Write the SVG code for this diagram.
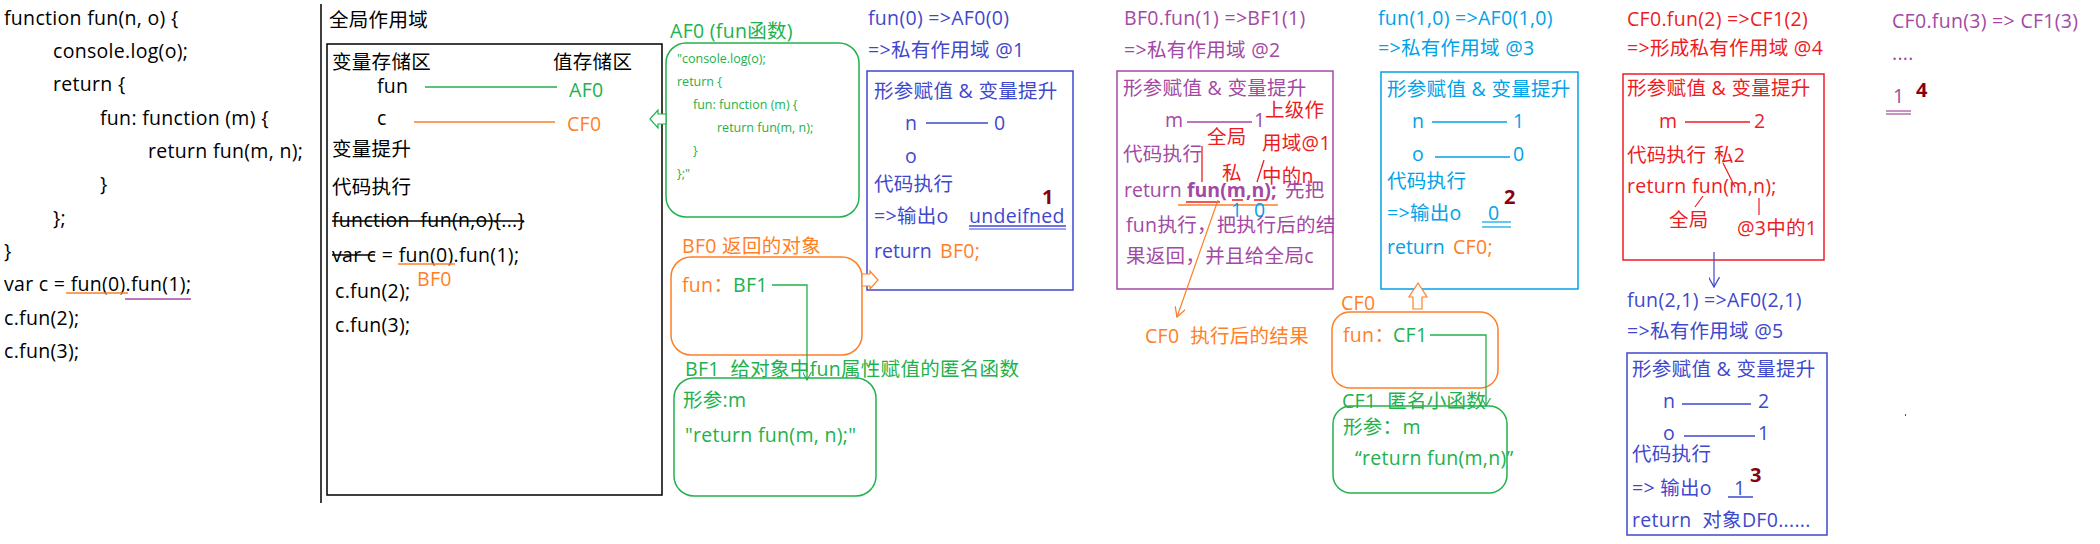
<svg xmlns="http://www.w3.org/2000/svg" width="2100" height="544" viewBox="0 0 2100 544">
<defs>
<style>
text{font-family:"Open Sans","Noto Sans CJK SC",sans-serif;font-size:19.5px;letter-spacing:0.3px}
.k{fill:#000}.g{fill:#22b14c}.o{fill:#ff7f27}.b{fill:#3f48cc}.p{fill:#a349a4}.c{fill:#00a2e8}.r{fill:#ed1c24}
.d{fill:#880015;font-weight:bold;font-size:20px}
.s{font-size:12.5px;letter-spacing:0}
.n{letter-spacing:0}
.bd{font-weight:bold;letter-spacing:0}
.ln{fill:none;stroke-width:1.3}
.box{fill:none;stroke-width:1.5}
</style>
<marker id="avg" viewBox="0 0 10 10" refX="9" refY="5" markerWidth="9" markerHeight="9" orient="auto" markerUnits="userSpaceOnUse">
<path d="M0,0 L9,5 L0,10" fill="none" stroke="#22b14c" stroke-width="1.2"/>
</marker>
<marker id="avo" viewBox="0 0 10 10" refX="9" refY="5" markerWidth="11" markerHeight="11" orient="auto" markerUnits="userSpaceOnUse">
<path d="M0,0 L9,5 L0,10" fill="none" stroke="#ff7f27" stroke-width="1.2"/>
</marker>
<marker id="avb" viewBox="0 0 10 10" refX="9" refY="5" markerWidth="11" markerHeight="11" orient="auto" markerUnits="userSpaceOnUse">
<path d="M0,0 L9,5 L0,10" fill="none" stroke="#3f48cc" stroke-width="1.2"/>
</marker>
</defs>
<rect width="2100" height="544" fill="#fff"/>

<g id="code">
<text class="k" x="4" y="25">function fun(n, o) {</text>
<text class="k" x="53" y="58">console.log(o);</text>
<text class="k" x="53" y="91">return {</text>
<text class="k" x="100" y="125">fun: function (m) {</text>
<text class="k" x="148" y="158">return fun(m, n);</text>
<text class="k" x="100" y="191">}</text>
<text class="k" x="53" y="225">};</text>
<text class="k" x="4" y="258">}</text>
<text class="k" x="4" y="291">var c = fun(0).fun(1);</text>
<text class="k" x="4" y="325">c.fun(2);</text>
<text class="k" x="4" y="358">c.fun(3);</text>
<line x1="66" y1="293" x2="128" y2="293" stroke="#ff7f27" stroke-width="1.3"/>
<line x1="125" y1="299" x2="191" y2="299" stroke="#a349a4" stroke-width="1.3"/>
</g>

<line x1="321" y1="4" x2="321" y2="503" stroke="#000" stroke-width="1.5"/>

<g id="global">
<text class="k" x="329" y="27">全局作用域</text>
<rect class="box" x="327" y="44" width="335" height="451" stroke="#000"/>
<text class="k" x="332" y="69">变量存储区</text>
<text class="k" x="553" y="69">值存储区</text>
<text class="k" x="377" y="93">fun</text>
<text class="g" x="569" y="97">AF0</text>
<text class="k" x="377" y="125">c</text>
<text class="o" x="567" y="131">CF0</text>
<text class="k" x="332" y="156">变量提升</text>
<text class="k" x="332" y="194">代码执行</text>
<text class="k" x="332" y="227" xml:space="preserve">function  fun(n,o){...}</text>
<line x1="332" y1="221" x2="524" y2="221" stroke="#000" stroke-width="1.5"/>
<text class="k" x="332" y="262">var c = fun(0).fun(1);</text>
<line x1="332" y1="255" x2="375" y2="255" stroke="#000" stroke-width="1.5"/>
<line x1="398" y1="264" x2="455" y2="264" stroke="#ff7f27" stroke-width="1.3"/>
<text class="o" x="417" y="286">BF0</text>
<text class="k" x="335" y="298">c.fun(2);</text>
<text class="k" x="335" y="332">c.fun(3);</text>
</g>

<g id="AF0">
<text class="g" x="670" y="38">AF0 (fun函数)</text>
<rect class="box" x="666" y="43" width="193" height="174" rx="20" stroke="#22b14c"/>
<text class="g s" x="677" y="63">"console.log(o);</text>
<text class="g s" x="677" y="86">return {</text>
<text class="g s" x="693" y="109">fun: function (m) {</text>
<text class="g s" x="717" y="132">return fun(m, n);</text>
<text class="g s" x="693" y="155">}</text>
<text class="g s" x="677" y="178">};"</text>
</g>

<g id="BF0">
<text class="o" x="682" y="253">BF0 返回的对象</text>
<rect class="box" x="671" y="257" width="191" height="98" rx="20" stroke="#ff7f27"/>
<text class="o" x="682" y="292">fun：</text>
<text class="g" x="733" y="292">BF1</text>
</g>

<g id="BF1">
<text class="g" x="685" y="376" xml:space="preserve">BF1  给对象中fun属性赋值的匿名函数</text>
<rect class="box" x="674" y="378" width="202" height="118" rx="20" stroke="#22b14c"/>
<text class="g" x="683" y="407">形参:m</text>
<text class="g" x="685" y="442">"return fun(m, n);"</text>
</g>

<g id="scope1">
<text class="b" x="868" y="25">fun(0) =&gt;AF0(0)</text>
<text class="b" x="868" y="57">=&gt;私有作用域 @1</text>
<rect class="box" x="867" y="71" width="206" height="219" stroke="#3f48cc"/>
<text class="b" x="874" y="98">形参赋值 &amp; 变量提升</text>
<text class="b" x="905" y="130">n</text>
<line x1="926" y1="123" x2="988" y2="123" stroke="#3f48cc" stroke-width="1.3"/>
<text class="b" x="994" y="130">0</text>
<text class="b" x="905" y="163">o</text>
<text class="b" x="874" y="191">代码执行</text>
<text class="d" x="1042" y="204">1</text>
<text class="b" x="874" y="223">=&gt;输出o</text>
<text class="b" x="969" y="223">undeifned</text>
<line x1="969" y1="226" x2="1066" y2="226" stroke="#3f48cc" stroke-width="1.3"/>
<line x1="969" y1="229" x2="1066" y2="229" stroke="#3f48cc" stroke-width="1"/>
<text class="b n" x="874" y="258">return</text>
<text class="o" x="940" y="258">BF0;</text>
</g>

<g id="scope2">
<text class="p" x="1124" y="25">BF0.fun(1) =&gt;BF1(1)</text>
<text class="p" x="1124" y="57">=&gt;私有作用域 @2</text>
<rect class="box" x="1117" y="71" width="216" height="218" stroke="#a349a4"/>
<text class="p" x="1123" y="95">形参赋值 &amp; 变量提升</text>
<text class="p" x="1165" y="127">m</text>
<line x1="1187" y1="122" x2="1252" y2="122" stroke="#a349a4" stroke-width="1.3"/>
<text class="p" x="1254" y="127">1</text>
<text class="r" x="1265" y="117">上级作</text>
<text class="r" x="1207" y="144">全局</text>
<text class="r" x="1262" y="150">用域@1</text>
<text class="p" x="1123" y="161">代码执行</text>
<text class="r" x="1222" y="180">私</text>
<text class="r" x="1262" y="183">中的n</text>
<text class="p n" x="1124" y="197">return</text>
<text class="p bd" x="1187" y="197">fun(m,n);</text>
<text class="p" x="1285" y="197">先把</text>
<line x1="1186" y1="202" x2="1220" y2="202" stroke="#ed1c24" stroke-width="1.5"/>
<line x1="1232" y1="200" x2="1243" y2="200" stroke="#ed1c24" stroke-width="1.5"/>
<line x1="1254" y1="200" x2="1267" y2="200" stroke="#ed1c24" stroke-width="1.5"/>
<line x1="1178" y1="205" x2="1278" y2="205" stroke="#ff7f27" stroke-width="1.3"/>
<text class="c" x="1231" y="217">1</text>
<text class="c" x="1254" y="217">0</text>
<text class="p" x="1126" y="232">fun执行，把执行后的结</text>
<text class="p" x="1126" y="263">果返回，并且给全局c</text>
<line x1="1202" y1="146" x2="1202" y2="182" stroke="#ed1c24" stroke-width="1.3"/>
<line x1="1264" y1="160" x2="1257" y2="182" stroke="#ed1c24" stroke-width="1.3"/>
<text class="o" x="1145" y="343" xml:space="preserve">CF0  执行后的结果</text>
</g>

<g id="scope3">
<text class="c" x="1378" y="25">fun(1,0) =&gt;AF0(1,0)</text>
<text class="c" x="1378" y="55">=&gt;私有作用域 @3</text>
<rect class="box" x="1381" y="72" width="197" height="217" stroke="#00a2e8"/>
<text class="c" x="1387" y="96">形参赋值 &amp; 变量提升</text>
<text class="c" x="1412" y="128">n</text>
<line x1="1432" y1="122" x2="1507" y2="122" stroke="#00a2e8" stroke-width="1.3"/>
<text class="c" x="1513" y="128">1</text>
<text class="c" x="1412" y="161">o</text>
<line x1="1435" y1="157" x2="1510" y2="157" stroke="#00a2e8" stroke-width="1.3"/>
<text class="c" x="1513" y="161">0</text>
<text class="c" x="1387" y="188">代码执行</text>
<text class="d" x="1504" y="204">2</text>
<text class="c" x="1387" y="220">=&gt;输出o</text>
<text class="c" x="1488" y="220">0</text>
<line x1="1482" y1="222" x2="1511" y2="222" stroke="#00a2e8" stroke-width="1.2"/>
<line x1="1482" y1="227" x2="1511" y2="227" stroke="#00a2e8" stroke-width="1.2"/>
<text class="c n" x="1387" y="254">return</text>
<text class="o" x="1453" y="254">CF0;</text>
</g>

<g id="CF0">
<text class="o" x="1341" y="310">CF0</text>
<rect class="box" x="1332" y="312" width="166" height="76" rx="18" stroke="#ff7f27"/>
<text class="o" x="1343" y="342">fun：</text>
<text class="g" x="1393" y="342">CF1</text>
</g>

<g id="CF1">
<text class="g" x="1342" y="408" xml:space="preserve">CF1  匿名小函数</text>
<rect class="box" x="1333" y="406" width="174" height="87" rx="18" stroke="#22b14c"/>
<text class="g" x="1343" y="434">形参：m</text>
<text class="g" x="1355" y="465">“return fun(m,n)”</text>
</g>

<g id="scope4">
<text class="r" x="1627" y="26">CF0.fun(2) =&gt;CF1(2)</text>
<text class="r" x="1627" y="55">=&gt;形成私有作用域 @4</text>
<rect class="box" x="1623" y="74" width="201" height="186" stroke="#ed1c24"/>
<text class="r" x="1627" y="95">形参赋值 &amp; 变量提升</text>
<text class="r" x="1659" y="128">m</text>
<line x1="1685" y1="122" x2="1750" y2="122" stroke="#ed1c24" stroke-width="1.3"/>
<text class="r" x="1754" y="128">2</text>
<text class="r" x="1627" y="162">代码执行</text>
<text class="r" x="1714" y="162">私2</text>
<text class="r" x="1627" y="193">return fun(m,n);</text>
<line x1="1723" y1="163" x2="1735" y2="187" stroke="#ed1c24" stroke-width="1.2"/>
<line x1="1703" y1="196" x2="1695" y2="207" stroke="#ed1c24" stroke-width="1.2"/>
<text class="r" x="1669" y="227">全局</text>
<line x1="1759" y1="198" x2="1759" y2="215" stroke="#ed1c24" stroke-width="1.2"/>
<text class="r" x="1737" y="235">@3中的1</text>
</g>

<g id="scope5">
<text class="b" x="1627" y="307">fun(2,1) =&gt;AF0(2,1)</text>
<text class="b" x="1627" y="338">=&gt;私有作用域 @5</text>
<rect class="box" x="1627" y="353" width="200" height="182" stroke="#3f48cc"/>
<text class="b" x="1632" y="376">形参赋值 &amp; 变量提升</text>
<text class="b" x="1663" y="408">n</text>
<line x1="1682" y1="404" x2="1751" y2="404" stroke="#3f48cc" stroke-width="1.3"/>
<text class="b" x="1758" y="408">2</text>
<text class="b" x="1663" y="440">o</text>
<line x1="1684" y1="436" x2="1755" y2="436" stroke="#3f48cc" stroke-width="1.3"/>
<text class="b" x="1758" y="440">1</text>
<text class="b" x="1632" y="461">代码执行</text>
<text class="d" x="1750" y="482">3</text>
<text class="b" x="1632" y="495">=&gt; 输出o</text>
<text class="b" x="1734" y="495">1</text>
<line x1="1728" y1="497" x2="1753" y2="497" stroke="#3f48cc" stroke-width="1.5"/>
<text class="b" x="1632" y="527" xml:space="preserve">return  对象DF0......</text>
</g>

<g id="scope6">
<text class="p" x="1892" y="28">CF0.fun(3) =&gt; CF1(3)</text>
<text class="p" x="1892" y="60">....</text>
<text class="p" x="1893" y="103">1</text>
<line x1="1886" y1="111" x2="1911" y2="111" stroke="#a349a4" stroke-width="1.2"/>
<line x1="1886" y1="114" x2="1911" y2="114" stroke="#a349a4" stroke-width="1.2"/>
<text class="d" x="1916" y="97">4</text>
<rect x="1905" y="414" width="1" height="2" fill="#3f48cc"/>
</g>

<g id="connectors">
<line x1="425" y1="87" x2="557" y2="87" stroke="#22b14c" stroke-width="1.3"/>
<line x1="414" y1="122" x2="555" y2="122" stroke="#ff7f27" stroke-width="1.3"/>
<polygon points="650,119 658,110 658,114 666,114 666,124 658,124 658,128" fill="#fff" stroke="#22b14c" stroke-width="1.2"/>
<polygon points="878,280 870,271 870,274 862,274 862,286 870,286 870,289" fill="#fff" stroke="#ff7f27" stroke-width="1.2"/>
<polygon points="1418,283 1427,297 1422,297 1422,309 1413,309 1413,297 1409,297" fill="#fff" stroke="#ff7f27" stroke-width="1.2"/>
<polyline class="ln" points="772,285 807,285 807,380" stroke="#22b14c" marker-end="url(#avg)"/>
<polyline class="ln" points="1430,335 1486,335 1486,406" stroke="#22b14c" marker-end="url(#avg)"/>
<line x1="1218" y1="200" x2="1177" y2="317" stroke="#ff7f27" stroke-width="1.2" marker-end="url(#avo)"/>
<line x1="1714" y1="252" x2="1714" y2="287" stroke="#3f48cc" stroke-width="1.2" marker-end="url(#avb)"/>
</g>
</svg>
